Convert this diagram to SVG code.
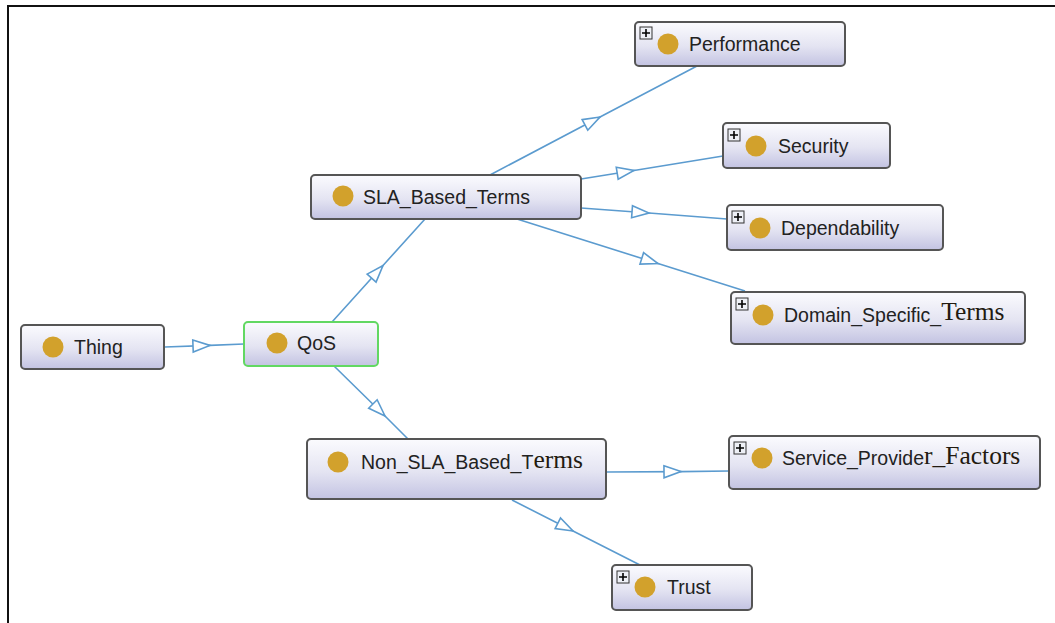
<svg xmlns="http://www.w3.org/2000/svg" width="1055" height="623" viewBox="0 0 1055 623">
<style>
.node{fill:url(#g);stroke:#555;stroke-width:2}
.sel{fill:url(#g);stroke:#62d862;stroke-width:2}
.dot{fill:#d2a12c}
.lbl{font-family:"Liberation Sans",Arial,sans-serif;font-size:19.5px;fill:#222}
.ser{font-family:"Liberation Serif","Times New Roman",serif;font-size:25.5px;fill:#221a10}
.edge{fill:none;stroke:#5b9bcf;stroke-width:1.6;marker-mid:url(#tri)}
.pb{fill:#eef0f6;stroke:#333;stroke-width:1}
.pl{stroke:#000;stroke-width:1.6}
</style>
<defs>
<linearGradient id="g" x1="0" y1="0" x2="0" y2="1">
<stop offset="0" stop-color="#fbfbfe"/>
<stop offset="0.55" stop-color="#e4e4f2"/>
<stop offset="1" stop-color="#c3c3e2"/>
</linearGradient>
<marker id="tri" markerUnits="userSpaceOnUse" markerWidth="20" markerHeight="16" refX="18" refY="7" orient="auto" overflow="visible">
<path d="M1,1 L18,7 L1,13 Z" fill="#fff" stroke="#5b9bcf" stroke-width="1.6"/>
</marker>
</defs>
<rect width="1055" height="623" fill="#fff"/>
<path d="M8,623 L8,6 L1055,6" fill="none" stroke="#111" stroke-width="2"/>
<g id="connectors">
<polyline class="edge" points="165,347 210,345.4 244,344"/>
<polyline class="edge" points="332,322 383,265.5 425,219"/>
<polyline class="edge" points="334,366 385,416 408,439"/>
<polyline class="edge" points="490,175 600,117 697,66"/>
<polyline class="edge" points="581,179 634,170.5 723,156"/>
<polyline class="edge" points="581,208 649,213 727,219"/>
<polyline class="edge" points="517,219 658,263.5 745,291"/>
<polyline class="edge" points="607,472 681,471.6 729,471"/>
<polyline class="edge" points="512,500 573,531 640,565"/>
</g>
<g id="thing">
<rect class="node" x="21" y="325" width="143" height="44" rx="4"/>
<circle class="dot" cx="53" cy="347" r="10.5"/>
<text class="lbl" x="74" y="354">Thing</text>
</g>
<g id="qos">
<rect class="sel" x="244" y="322" width="134" height="44" rx="4"/>
<circle class="dot" cx="277" cy="343" r="10.5"/>
<text class="lbl" x="297" y="350">QoS</text>
</g>
<g id="sla">
<rect class="node" x="311" y="175" width="270" height="44" rx="4"/>
<circle class="dot" cx="343" cy="196" r="10.5"/>
<text class="lbl" x="363" y="204">SLA_Based_Terms</text>
</g>
<g id="nonsla">
<rect class="node" x="307" y="439" width="299" height="60" rx="4"/>
<circle class="dot" cx="338" cy="462" r="10.5"/>
<text class="lbl" x="361" y="469">Non_SLA_Based_T<tspan class="ser" dy="-1">erms</tspan></text>
</g>
<g id="performance">
<rect class="node" x="635" y="22" width="210" height="44" rx="4"/>
<rect class="pb" x="640" y="27" width="12" height="12"/>
<path class="pl" d="M642,33 H650 M646,29 V37"/>
<circle class="dot" cx="668" cy="44" r="10.5"/>
<text class="lbl" x="689" y="51">Performance</text>
</g>
<g id="security">
<rect class="node" x="723" y="123" width="167" height="45" rx="4"/>
<rect class="pb" x="728" y="129" width="12" height="12"/>
<path class="pl" d="M730,135 H738 M734,131 V139"/>
<circle class="dot" cx="756" cy="146" r="10.5"/>
<text class="lbl" x="778" y="153">Security</text>
</g>
<g id="dependability">
<rect class="node" x="727" y="205" width="216" height="45" rx="4"/>
<rect class="pb" x="732" y="211" width="12" height="12"/>
<path class="pl" d="M734,217 H742 M738,213 V221"/>
<circle class="dot" cx="760" cy="228" r="10.5"/>
<text class="lbl" x="781" y="235">Dependability</text>
</g>
<g id="domain">
<rect class="node" x="731" y="292" width="294" height="52" rx="4"/>
<rect class="pb" x="736" y="298" width="12" height="12"/>
<path class="pl" d="M738,304 H746 M742,300 V308"/>
<circle class="dot" cx="763" cy="315" r="10.5"/>
<text class="lbl" x="784" y="322">Domain_Specific_<tspan class="ser" dy="-2">Terms</tspan></text>
</g>
<g id="service">
<rect class="node" x="729" y="436" width="311" height="53" rx="4"/>
<rect class="pb" x="734" y="442" width="12" height="12"/>
<path class="pl" d="M736,448 H744 M740,444 V452"/>
<circle class="dot" cx="762" cy="458" r="10.5"/>
<text class="lbl" x="782" y="465">Service_Provide<tspan class="ser" dy="-1">r_Factors</tspan></text>
</g>
<g id="trust">
<rect class="node" x="612" y="565" width="140" height="45" rx="4"/>
<rect class="pb" x="617" y="571" width="12" height="12"/>
<path class="pl" d="M619,577 H627 M623,573 V581"/>
<circle class="dot" cx="645" cy="587" r="10.5"/>
<text class="lbl" x="667" y="594">Trust</text>
</g>
</svg>
